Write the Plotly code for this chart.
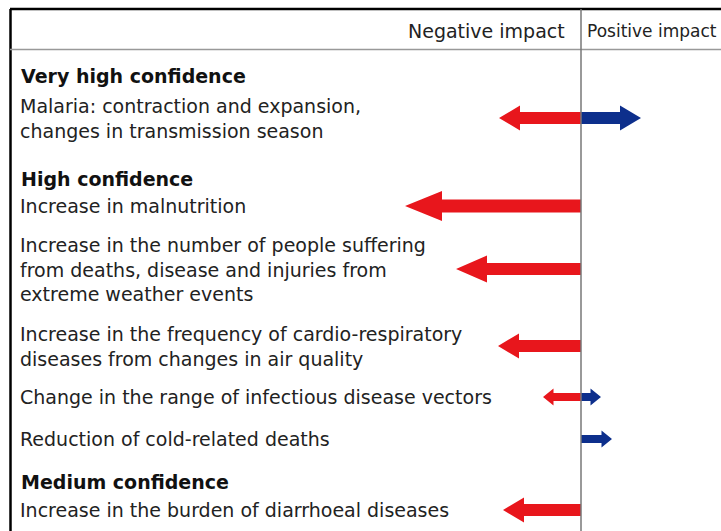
import plotly.graph_objects as go

# Health impacts grouped by confidence level
headings = ["Very high confidence", "High confidence", "Medium confidence"]
impacts = [
    "Malaria: contraction and expansion,<br>changes in transmission season",
    "Increase in malnutrition",
    "Increase in the number of people suffering<br>from deaths, disease and injuries from<br>extreme weather events",
    "Increase in the frequency of cardio-respiratory<br>diseases from changes in air quality",
    "Change in the range of infectious disease vectors",
    "Reduction of cold-related deaths",
    "Increase in the burden of diarrhoeal diseases",
]
negative = [-82, -176, -125, -83, -38, 0, -78]
positive = [60, 0, 0, 0, 20, 31, 0]
arrow_size = ["S", "L", "M", "S", "XS", "XS", "S"]

# layout (pixel-like units: 0 = divider line)
heading_y = [76, 179, 482]
row_y = [118, 206, 269, 346, 397, 439, 510]
sizes = {"L": (6.5, 15, 37), "M": (6, 13.5, 31), "S": (6, 12.5, 21), "XS": (4, 8.5, 10.5)}
RED = "#e8161c"
BLUE = "#0d2f8c"
FONT = "DejaVu Sans"


def arrow(tip, yc, size):
    hs, hh, hl = sizes[size]
    s = 1 if tip > 0 else -1
    base = tip - s * hl
    xs = [0, base, base, tip, base, base, 0, 0]
    ys = [yc - hs, yc - hs, yc - hh, yc, yc + hh, yc + hs, yc + hs, yc - hs]
    return xs, ys


fig = go.Figure()
for i in range(len(impacts)):
    for val, col in [(negative[i], RED), (positive[i], BLUE)]:
        if val == 0:
            continue
        xs, ys = arrow(val, row_y[i], arrow_size[i])
        fig.add_trace(go.Scatter(x=xs, y=ys, mode="lines", fill="toself", fillcolor=col,
                                 line=dict(width=0, color=col), hoverinfo="skip", showlegend=False))

for txt, y in zip(headings, heading_y):
    fig.add_annotation(x=-562, y=y, text="<b>" + txt + "</b>", showarrow=False, xanchor="left", yanchor="middle",
                       font=dict(family=FONT, size=19, color="#111"))
for txt, y in zip(impacts, row_y):
    fig.add_annotation(x=-563, y=y, text=txt, showarrow=False, xanchor="left", yanchor="middle", align="left",
                       font=dict(family=FONT, size=19, color="#222"))

fig.add_annotation(x=-14, y=31, text="Negative impact", showarrow=False, xanchor="right", yanchor="middle",
                   font=dict(family=FONT, size=19, color="#222"))
fig.add_annotation(x=4, y=31, text="Positive impact", showarrow=False, xanchor="left", yanchor="middle",
                   font=dict(family=FONT, size=17, color="#222"))

# frame lines
fig.add_shape(type="line", x0=-571, x1=140, y0=9, y1=9, line=dict(color="black", width=2.5))
fig.add_shape(type="line", x0=-570.5, x1=-570.5, y0=9, y1=531, line=dict(color="black", width=2.5))
fig.add_shape(type="line", x0=-571, x1=140, y0=49.5, y1=49.5, line=dict(color="#999", width=1.5))
fig.add_shape(type="line", x0=0, x1=0, y0=9, y1=531, line=dict(color="#777", width=1.5))

fig.update_xaxes(range=[-581, 140], visible=False, fixedrange=True)
fig.update_yaxes(range=[531, 0], visible=False, fixedrange=True)
fig.update_layout(width=721, height=531, margin=dict(l=0, r=0, t=0, b=0),
                  plot_bgcolor="white", paper_bgcolor="white")

# drop the page's default body margin so the figure sits at the window corner
fig.write_html("out.html", config={"displayModeBar": False},
               post_script="document.body.style.margin='0';document.body.style.overflow='hidden';")
